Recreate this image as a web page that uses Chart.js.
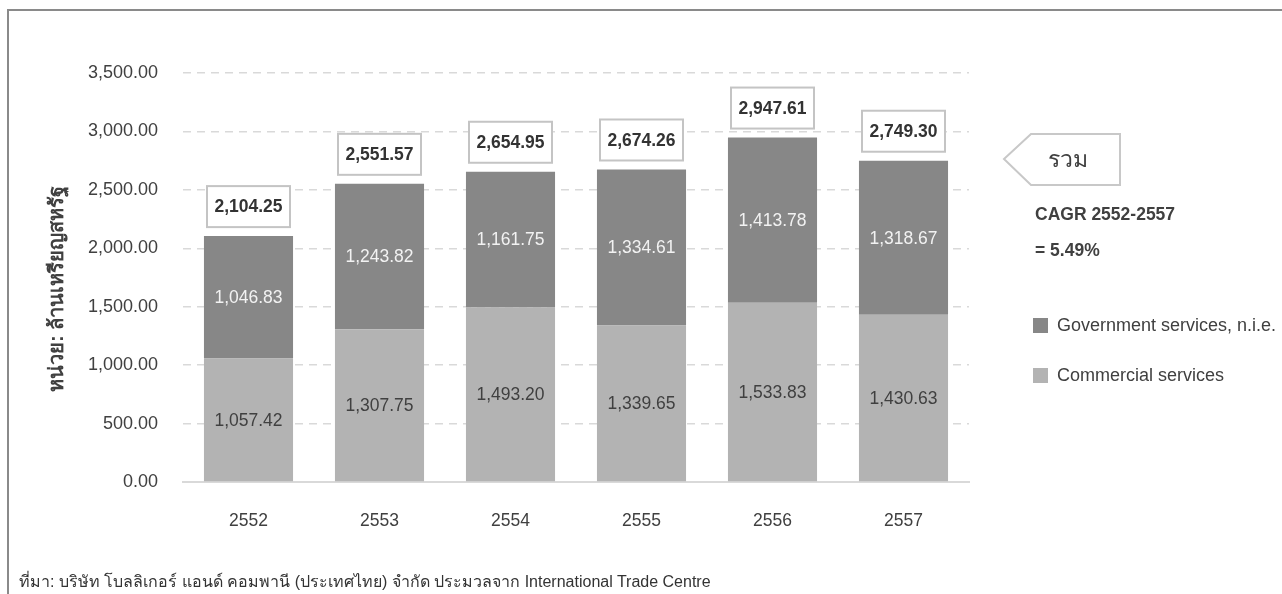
<!DOCTYPE html>
<html>
<head>
<meta charset="utf-8">
<script src="https://cdn.jsdelivr.net/npm/chart.js@4.4.0/dist/chart.umd.min.js"></script>
<style>
  html, body { margin: 0; padding: 0; background: #fff; width: 1282px; height: 594px; overflow: hidden; }
  body { position: relative; font-family: "Liberation Sans", Arial, sans-serif; color: #404040; }
  #frame { position: absolute; left: 7px; top: 9px; width: 1300px; height: 620px; border: 2px solid #8a8a8a; box-sizing: border-box; }
  #wrap { position: absolute; left: 0; top: 0; width: 1282px; height: 594px; }
  .txt { position: absolute; white-space: nowrap; }
  #arrowLabel { left: 1018px; top: 144px; width: 100px; height: 30px; line-height: 30px; text-align: center; font-size: 23px; color: #404040; }
  #cagr1 { left: 1035px; top: 204px; font-size: 17.5px; font-weight: bold; color: #404040; }
  #cagr2 { left: 1035px; top: 240px; font-size: 17.5px; font-weight: bold; color: #404040; }
  .leg { position: absolute; left: 1033px; height: 20px; line-height: 20px; font-size: 18px; color: #404040; display: flex; align-items: center; white-space: nowrap; }
  .leg span.sw { display: inline-block; width: 15px; height: 15px; margin-right: 9px; }
  #footer { left: 19px; top: 569px; font-size: 16px; color: #333; }
</style>
</head>
<body>
<div id="frame"></div>
<div id="wrap"><canvas id="c" width="1282" height="594"></canvas></div>
<div class="txt" id="arrowLabel">รวม</div>
<div class="txt" id="cagr1">CAGR 2552-2557</div>
<div class="txt" id="cagr2">= 5.49%</div>
<div id="legend"></div>
<div class="txt" id="footer">ที่มา: บริษัท โบลลิเกอร์ แอนด์ คอมพานี (ประเทศไทย) จำกัด ประมวลจาก International Trade Centre</div>
<script>
const years = ['2552', '2553', '2554', '2555', '2556', '2557'];
const commercial = [1057.42, 1307.75, 1493.20, 1339.65, 1533.83, 1430.63];
const government = [1046.83, 1243.82, 1161.75, 1334.61, 1413.78, 1318.67];
const totals = [2104.25, 2551.57, 2654.95, 2674.26, 2947.61, 2749.30];
const seriesNames = ['Commercial services', 'Government services, n.i.e.'];
const yTitle = 'หน่วย: ล้านเหรียญสหรัฐ';

const COL_LIGHT = '#b3b3b3';
const COL_DARK = '#878787';
const fmt = v => v.toLocaleString('en-US', { minimumFractionDigits: 2, maximumFractionDigits: 2 });

// legend (HTML)
const legendEl = document.getElementById('legend');
[[seriesNames[1], COL_DARK, 315], [seriesNames[0], COL_LIGHT, 365]].forEach(([name, col, top]) => {
  const d = document.createElement('div');
  d.className = 'leg';
  d.style.top = top + 'px';
  d.innerHTML = '<span class="sw" style="background:' + col + '"></span>' + name;
  legendEl.appendChild(d);
});

const labelPlugin = {
  id: 'labels',
  afterDatasetsDraw(chart) {
    const ctx = chart.ctx;
    ctx.save();
    ctx.textAlign = 'center';
    ctx.textBaseline = 'middle';
    // segment labels
    chart.data.datasets.forEach((ds, di) => {
      const meta = chart.getDatasetMeta(di);
      meta.data.forEach((el, i) => {
        const cy = (el.y + el.base) / 2;
        ctx.font = '17.5px "Liberation Sans", Arial, sans-serif';
        ctx.fillStyle = di === 0 ? '#404040' : '#f2f2f2';
        ctx.fillText(fmt(ds.data[i]), el.x, cy + 1);
      });
    });
    // total boxes
    const yScale = chart.scales.y;
    const meta1 = chart.getDatasetMeta(1);
    totals.forEach((t, i) => {
      const x = meta1.data[i].x;
      const top = yScale.getPixelForValue(t);
      const bw = 83, bh = 41;
      const bx = x - bw / 2, by = top - 9 - bh;
      ctx.fillStyle = '#fff';
      ctx.fillRect(bx, by, bw, bh);
      ctx.strokeStyle = '#c4c4c4';
      ctx.lineWidth = 2;
      ctx.strokeRect(bx, by, bw, bh);
      ctx.fillStyle = '#333';
      ctx.font = 'bold 17.5px "Liberation Sans", Arial, sans-serif';
      ctx.fillText(fmt(t), x, by + bh / 2 + 1);
    });
    // y-axis title
    ctx.save();
    ctx.translate(57, 289);
    ctx.rotate(-Math.PI / 2);
    ctx.font = 'bold 20px "Liberation Sans", Arial, sans-serif';
    ctx.fillStyle = '#404040';
    ctx.fillText(yTitle, 0, 0);
    ctx.restore();
    // arrow shape (right panel)
    ctx.beginPath();
    ctx.moveTo(1004, 159);
    ctx.lineTo(1031, 134);
    ctx.lineTo(1120, 134);
    ctx.lineTo(1120, 185);
    ctx.lineTo(1031, 185);
    ctx.closePath();
    ctx.strokeStyle = '#c8c8c8';
    ctx.lineWidth = 2;
    ctx.stroke();
    ctx.restore();
  }
};

new Chart(document.getElementById('c'), {
  type: 'bar',
  data: {
    labels: years,
    datasets: [
      { label: seriesNames[0], data: commercial, backgroundColor: COL_LIGHT, categoryPercentage: 1, barPercentage: 0.68 },
      { label: seriesNames[1], data: government, backgroundColor: COL_DARK, categoryPercentage: 1, barPercentage: 0.68 }
    ]
  },
  options: {
    responsive: false,
    animation: false,
    devicePixelRatio: 1,
    layout: { padding: { left: 0, right: 313, top: 73, bottom: 0 } },
    plugins: { legend: { display: false }, tooltip: { enabled: false } },
    scales: {
      x: {
        stacked: true,
        grid: { display: false, drawTicks: false },
        border: { display: true, color: '#d9d9d9', width: 2 },
        ticks: { color: '#404040', font: { size: 17.5, family: '"Liberation Sans", Arial, sans-serif' }, padding: 29 },
        afterFit: s => { s.height = 594 - 482; }
      },
      y: {
        stacked: true,
        min: 0, max: 3500,
        grid: { color: '#d9d9d9', lineWidth: 1.5, drawTicks: false },
        border: { display: false, dash: [8, 6] },
        ticks: {
          stepSize: 500, color: '#404040', padding: 25,
          font: { size: 18, family: '"Liberation Sans", Arial, sans-serif' },
          callback: v => fmt(v)
        },
        afterFit: s => { s.width = 183; }
      }
    }
  },
  plugins: [labelPlugin]
});
</script>
</body>
</html>
